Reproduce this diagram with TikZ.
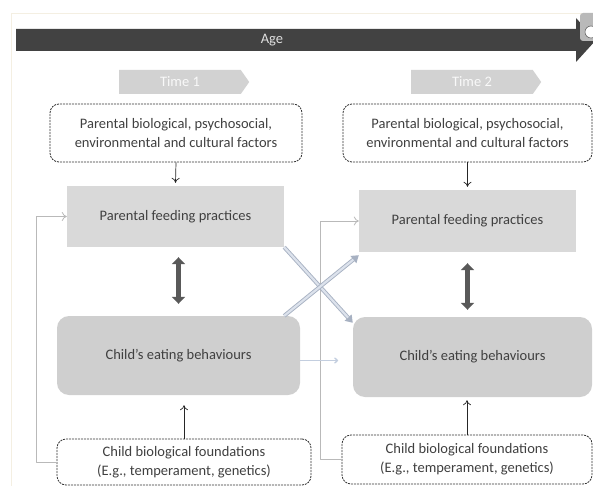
\documentclass[tikz,border=0pt]{standalone}
\usepackage{fontspec}
\setmainfont{Carlito}
\usetikzlibrary{arrows.meta,shapes.symbols}
\definecolor{txtgray}{HTML}{404040}
\definecolor{agegray}{HTML}{424242}
\definecolor{feedgray}{HTML}{D9D9D9}
\definecolor{childgray}{HTML}{CFCFCF}
\definecolor{timegray}{HTML}{D2D2D2}
\definecolor{framecol}{HTML}{F4EFE2}
\definecolor{crossout}{HTML}{A7B1C2}
\definecolor{crossin}{HTML}{DCE2EC}
\definecolor{lagblue}{HTML}{C3CEDF}
\tikzset{
	factorbox/.style={draw=black!80, dash pattern=on 2pt off 1pt, line width=0.8pt, rounded corners=9pt, fill=white, align=center, text=txtgray, inner sep=0pt},
	feedbox/.style={fill=feedgray, text=txtgray, inner sep=0pt},
	childbox/.style={fill=childgray, rounded corners=12pt, text=txtgray, inner sep=0pt},
	timebox/.style={signal, signal to=east, signal pointer angle=110, fill=timegray, text=white!95!gray, inner sep=0pt, minimum width=130pt, minimum height=24pt},
	thinarr/.style={-{To[length=5pt,width=8pt]}, line width=0.7pt, black!85},
	fback/.style={-{To[length=5pt,width=9pt]}, line width=0.8pt, gray!55},
	dblarr/.style={{Triangle[width=13pt,length=7pt]}-{Triangle[width=13pt,length=7pt]}, line width=4.5pt, black!65},
}
\begin{document}
\begin{tikzpicture}[x=1pt, y=-1pt, font=\fontsize{14.5}{19}\selectfont, line join=round]
	\useasboundingbox (0,0) rectangle (593,486);
	% frame
	\draw[framecol, line width=0.8pt] (11,486)--(11,13)--(582,13);
	% age arrow
	\fill[agegray] (16,29)--(576,29)--(576,18)--(596,40)--(576,62)--(576,51)--(16,51)--cycle;
	\node[text=white!88!black] (age) at (272,40) {Age};
	\fill[gray!55, rounded corners=3pt] (580,13) rectangle (598,41);
	\filldraw[fill=white, draw=black!60, line width=0.6pt] (591,32) circle (6);
	% time arrows
	\node[timebox] (timeOne) at (180,82) {Time 1};
	\node[timebox] (timeTwo) at (472,82) {Time 2};
	% boxes
	\node[factorbox, minimum width=252pt, minimum height=58pt] (factorsOne) at (176,133) {Parental biological, psychosocial,\\environmental and cultural factors};
	\node[factorbox, minimum width=249pt, minimum height=58pt] (factorsTwo) at (467.5,133) {Parental biological, psychosocial,\\environmental and cultural factors};
	\node[feedbox, minimum width=217pt, minimum height=61pt] (feedOne) at (175.5,216.5) {Parental feeding practices};
	\node[feedbox, minimum width=217pt, minimum height=62pt] (feedTwo) at (467.5,221) {Parental feeding practices};
	\node[childbox, minimum width=243pt, minimum height=79pt] (childOne) at (178.5,355.5) {Child’s eating behaviours};
	\node[childbox, minimum width=239pt, minimum height=80pt] (childTwo) at (472.5,357) {Child’s eating behaviours};
	\node[factorbox, minimum width=254pt, minimum height=46pt] (foundOne) at (184,462) {Child biological foundations\\(E.g., temperament, genetics)};
	\node[factorbox, minimum width=250pt, minimum height=49pt] (foundTwo) at (467,459.5) {Child biological foundations\\(E.g., temperament, genetics)};
	% feedback lines
	\draw[fback] (foundOne.west) -- ++(-20,0) |- (feedOne.west);
	\draw[fback] (foundTwo.west) -- ++(-21,0) |- (feedTwo.west);
	% vertical arrows
	\draw[thinarr] (factorsOne.south) -- ([yshift=3pt]feedOne.north);
	\draw[thinarr] (factorsTwo.south) -- ([yshift=3pt]feedTwo.north);
	\draw[thinarr] (foundOne.north) -- ([yshift=-10pt]foundOne.north |- childOne.south);
	\draw[thinarr] (foundTwo.north) -- ([yshift=-3pt]foundTwo.north |- childTwo.south);
	\draw[dblarr, shorten <=10pt, shorten >=12pt] (childOne.north |- feedOne.south) -- (childOne.north);
	\draw[dblarr, shorten <=11pt, shorten >=7pt] (feedTwo.south) -- (feedTwo.south |- childTwo.north);
	% cross-lagged arrows
	\draw[crossout, line width=4pt, -{Triangle[width=9pt,length=7pt]}] (feedOne.south east) -- ([yshift=-6pt]childTwo.north west);
	\draw[crossin, line width=2.2pt, shorten >=7pt] (feedOne.south east) -- ([yshift=-6pt]childTwo.north west);
	\draw[crossout, line width=4pt, -{Triangle[width=9pt,length=7pt]}] ([xshift=-16pt]childOne.north east) -- ([yshift=-3pt]feedTwo.south west);
	\draw[crossin, line width=2.2pt, shorten >=7pt] ([xshift=-16pt]childOne.north east) -- ([yshift=-3pt]feedTwo.south west);
	\draw[lagblue, line width=1.4pt, -{To[length=4pt,width=6pt]}] ([yshift=-5pt]childOne.east) -- ++(38,0) coordinate (childLag);
\end{tikzpicture}
\end{document}
